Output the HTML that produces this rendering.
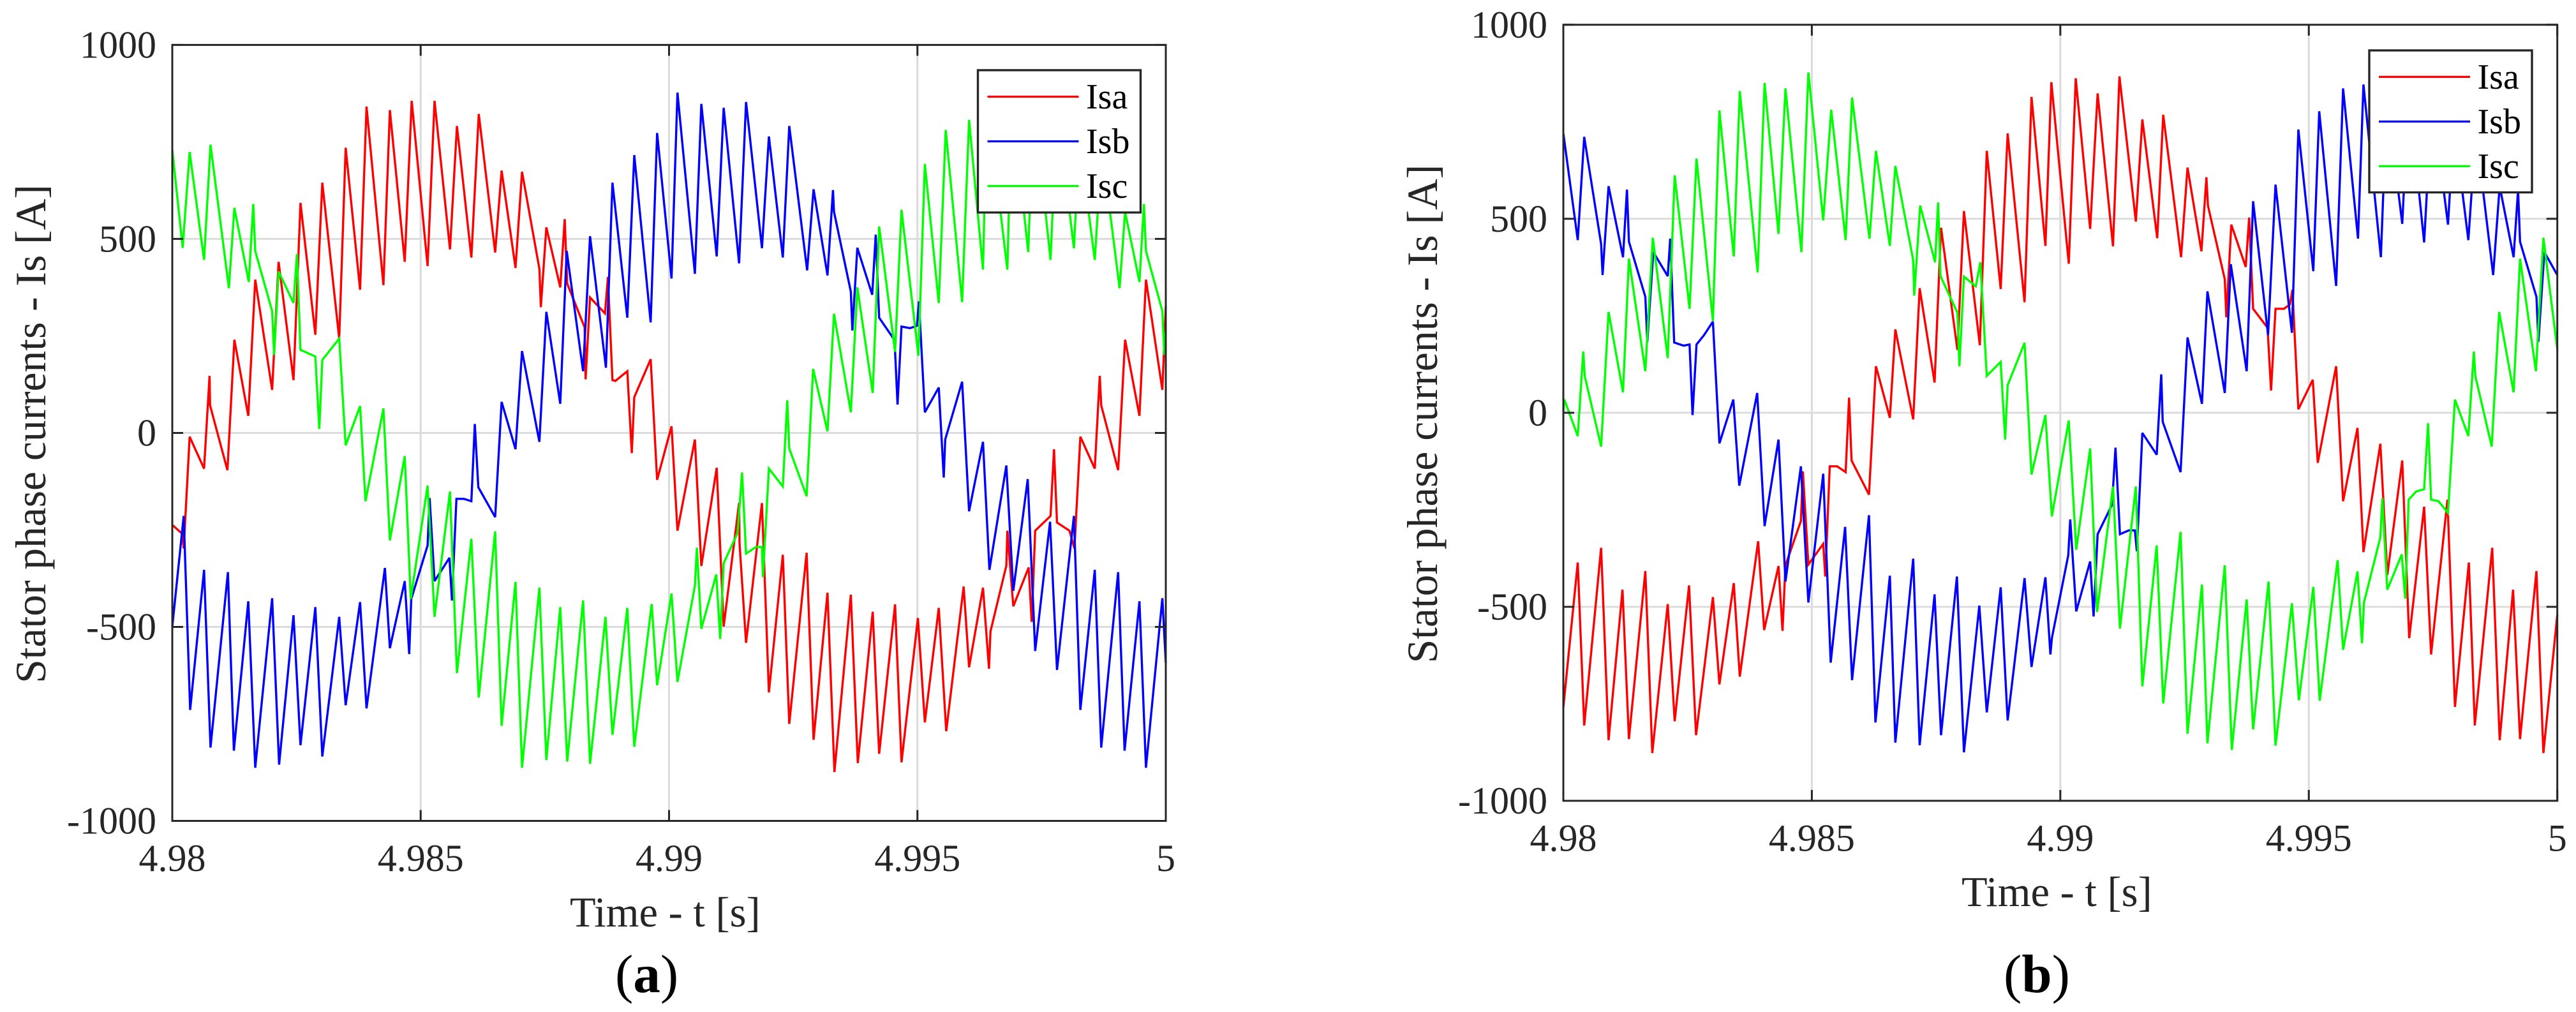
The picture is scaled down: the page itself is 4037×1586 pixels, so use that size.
<!DOCTYPE html>
<html lang="en">
<head>
<meta charset="utf-8">
<title>Stator phase currents</title>
<style>
html,body{margin:0;padding:0;background:#fff;width:4037px;height:1586px;overflow:hidden}
svg{display:block;font-family:"Liberation Serif","Times New Roman",serif}
</style>
</head>
<body>
<svg id="figure" xmlns="http://www.w3.org/2000/svg" width="4037" height="1586" viewBox="0 0 4037 1586">
  <rect width="4037" height="1586" fill="#fff"/>
  <g id="panel-a"></g>
  <g id="panel-b"></g>
  <text x="964" y="1555" font-size="85" fill="#000">(<tspan font-weight="bold">a</tspan>)</text>
  <text x="3140" y="1555" font-size="85" fill="#000">(<tspan font-weight="bold">b</tspan>)</text>
</svg>
<script>
// Tick definitions
const xTickValues = [4.98, 4.985, 4.99, 4.995, 5];
const xTickLabels = ['4.98', '4.985', '4.99', '4.995', '5'];
const yTickValues = [1000, 500, 0, -500, -1000];
const yTickLabels = ['1000', '500', '0', '-500', '-1000'];
const seriesNames = ['Isa', 'Isb', 'Isc'];
const seriesColors = ['#ff0000', '#0000ff', '#00ff00'];

// Panel (a): time in ms after 4.98 s, current in A
const aIsaTime = [0,.20,.23,.35,.64,.75,.76,1.11,1.25,1.53,1.67,2.01,2.14,2.44,2.58,2.88,3.02,3.36,3.49,3.78,3.91,4.25,4.38,4.68,4.82,5.14,5.28,5.59,5.73,6.02,6.17,6.50,6.63,6.91,7.04,7.39,7.42,7.53,7.81,7.90,7.95,8.30,8.32,8.41,8.71,8.77,8.86,8.92,9.16,9.25,9.30,9.63,9.76,10.05,10.17,10.52,10.65,10.96,11.10,11.41,11.42,11.55,11.87,12.01,12.29,12.42,12.77,12.91,13.19,13.33,13.66,13.80,14.10,14.23,14.55,14.68,15.01,15.15,15.43,15.58,15.93,16.04,16.32,16.44,16.47,16.79,16.81,16.93,17.24,17.30,17.37,17.68,17.75,17.81,18.06,18.16,18.28,18.57,18.67,18.70,19.04,19.18,19.47,19.60,19.93,20];
const aIsaCurrent = [-237,-260,-298,-10,-92,147,71,-96,240,44,395,111,441,136,593,253,645,243,735,369,841,381,832,441,856,430,856,473,791,452,822,465,676,425,673,423,324,530,375,551,385,272,138,349,308,402,136,134,159,-52,92,190,-121,17,-252,-17,-343,-90,-499,-180,-286,-541,-181,-669,-314,-750,-309,-791,-412,-874,-417,-851,-461,-827,-442,-849,-477,-746,-451,-769,-396,-604,-399,-608,-512,-342,-252,-447,-347,-487,-252,-214,-42,-231,-252,-298,-10,-92,147,71,-96,240,44,395,111,327];
const aIsbTime = [0,.23,.36,.64,.77,1.12,1.24,1.53,1.67,2.01,2.15,2.44,2.58,2.88,3.02,3.36,3.49,3.78,3.91,4.28,4.38,4.68,4.77,4.81,5.14,5.18,5.28,5.58,5.63,5.72,5.87,6.02,6.09,6.16,6.50,6.63,6.91,7.04,7.39,7.53,7.81,7.94,8.27,8.41,8.73,8.86,9.16,9.30,9.63,9.76,10.05,10.17,10.52,10.65,10.96,11.10,11.41,11.55,11.87,12.01,12.29,12.42,12.78,12.91,13.19,13.30,13.32,13.66,13.69,13.79,14.09,14.16,14.23,14.54,14.60,14.68,14.85,14.99,15.03,15.15,15.43,15.53,15.56,15.90,16.04,16.32,16.45,16.79,16.93,17.22,17.37,17.67,17.81,18.15,18.28,18.57,18.70,19.04,19.17,19.47,19.60,19.93,20];
const aIsbCurrent = [-499,-214,-714,-353,-811,-359,-819,-434,-863,-426,-855,-470,-805,-449,-834,-474,-702,-436,-710,-348,-555,-382,-570,-428,-290,-168,-382,-322,-432,-170,-170,-176,23,-140,-217,80,-42,211,-23,312,75,469,159,507,168,645,297,716,285,773,398,877,410,848,455,838,437,853,476,764,452,791,419,628,406,626,570,364,264,477,356,511,297,239,73,274,270,276,339,53,117,-115,-17,132,-202,-23,-353,-84,-407,-119,-562,-229,-611,-214,-714,-353,-811,-359,-819,-434,-863,-426,-593];
const aIscTime = [0,.21,.35,.64,.77,1.14,1.25,1.54,1.63,1.67,2.01,2.05,2.14,2.44,2.51,2.58,2.88,2.96,3.02,3.36,3.49,3.78,3.89,4.25,4.38,4.68,4.80,5.14,5.28,5.59,5.73,6.02,6.17,6.50,6.63,6.91,7.04,7.39,7.53,7.81,7.95,8.27,8.41,8.72,8.86,9.16,9.30,9.65,9.76,10.05,10.17,10.52,10.56,10.65,10.95,11.03,11.10,11.38,11.47,11.55,11.75,11.87,11.89,12.01,12.29,12.38,12.42,12.77,12.90,13.19,13.32,13.66,13.79,14.10,14.23,14.55,14.68,15.02,15.15,15.43,15.57,15.90,16.04,16.32,16.40,16.81,16.90,17.23,17.34,17.68,17.81,18.15,18.26,18.57,18.71,19.07,19.18,19.47,19.56,19.60,19.93,19.97,20];
const aIscCurrent = [729,477,724,446,743,373,580,389,590,469,314,201,416,335,461,214,197,10,188,243,-32,69,-176,63,-277,-60,-428,-136,-474,-151,-619,-273,-682,-254,-755,-384,-863,-399,-843,-449,-847,-432,-853,-474,-778,-451,-809,-441,-650,-414,-642,-394,-296,-505,-365,-531,-336,-258,-102,-311,-294,-294,-372,-92,-138,84,-40,-163,165,4,307,53,375,103,532,209,575,199,693,335,781,337,807,421,863,421,860,466,854,446,838,476,754,446,737,373,570,389,590,469,314,201,264];

// Panel (b): time in ms after 4.98 s, current in A
const bIsaTime = [0,.29,.42,.76,.91,1.19,1.32,1.65,1.79,2.10,2.24,2.53,2.67,3.01,3.14,3.43,3.55,3.92,4.04,4.33,4.41,4.47,4.78,4.82,4.93,5.23,5.27,5.36,5.51,5.68,5.75,5.80,6.15,6.29,6.57,6.68,7.04,7.17,7.47,7.60,7.93,8.06,8.38,8.52,8.80,8.94,9.28,9.42,9.70,9.82,10.17,10.31,10.60,10.75,11.06,11.19,11.52,11.65,11.95,12.07,12.43,12.56,12.84,12.94,12.97,13.31,13.34,13.44,13.73,13.80,13.88,14.17,14.24,14.33,14.50,14.62,14.67,14.79,15.08,15.18,15.55,15.69,15.98,16.10,16.44,16.58,16.88,17.02,17.32,17.46,17.79,17.94,18.22,18.34,18.69,18.84,19.11,19.25,19.58,19.72,20];
const bIsaCurrent = [-759,-386,-806,-348,-844,-456,-841,-408,-877,-493,-795,-445,-831,-475,-700,-439,-680,-331,-560,-395,-562,-393,-279,-151,-391,-338,-422,-138,-138,-153,39,-123,-211,120,-13,215,-17,321,78,477,162,520,174,675,319,720,285,814,430,852,384,862,474,823,429,867,493,756,450,768,401,632,416,607,534,344,246,485,376,503,268,219,57,268,268,279,317,9,85,-129,120,-228,-39,-359,-80,-418,-123,-581,-242,-623,-224,-758,-386,-806,-348,-844,-456,-841,-408,-877,-521];
const bIsbTime = [0,.29,.42,.76,.79,.91,1.20,1.28,1.32,1.65,1.69,1.81,2.10,2.15,2.23,2.42,2.54,2.60,2.68,2.83,3.01,3.14,3.42,3.54,3.90,4.05,4.33,4.47,4.78,4.93,5.23,5.38,5.67,5.81,6.15,6.28,6.57,6.68,7.04,7.17,7.47,7.60,7.92,8.06,8.37,8.52,8.80,8.94,9.28,9.42,9.70,9.80,9.83,10.16,10.20,10.32,10.60,10.67,10.75,11.04,11.11,11.20,11.38,11.50,11.54,11.65,11.94,12.03,12.06,12.42,12.56,12.85,12.96,13.31,13.43,13.75,13.88,14.18,14.33,14.66,14.79,15.09,15.21,15.55,15.69,15.99,16.10,16.45,16.57,16.88,17.01,17.32,17.48,17.80,17.92,18.21,18.36,18.71,18.84,19.12,19.21,19.25,19.58,19.62,19.74,20];
const bIsbCurrent = [720,445,711,435,355,584,401,575,441,299,183,414,352,449,181,173,176,-6,176,200,235,-79,34,-188,51,-292,-69,-435,-138,-489,-157,-644,-294,-689,-264,-798,-420,-850,-376,-857,-468,-831,-422,-875,-497,-772,-450,-793,-426,-655,-424,-623,-581,-367,-275,-512,-383,-525,-313,-237,-90,-313,-303,-303,-357,-52,-108,99,-23,-153,194,23,313,51,383,107,545,200,588,206,730,365,777,327,836,449,846,401,812,487,829,439,812,485,745,445,728,355,584,401,575,441,299,183,414,355];
const bIscTime = [0,.02,.29,.40,.43,.76,.91,1.20,1.32,1.65,1.80,2.10,2.24,2.54,2.68,3.01,3.14,3.43,3.55,3.91,4.05,4.33,4.47,4.79,4.93,5.23,5.39,5.68,5.81,6.16,6.29,6.57,6.68,7.04,7.06,7.18,7.48,7.54,7.59,7.93,7.97,8.06,8.30,8.39,8.52,8.80,8.89,8.94,9.28,9.42,9.70,9.83,10.17,10.32,10.60,10.74,11.06,11.20,11.52,11.65,11.94,12.07,12.42,12.56,12.85,12.96,13.31,13.45,13.75,13.88,14.19,14.33,14.66,14.80,15.09,15.22,15.58,15.69,15.98,16.07,16.11,16.44,16.48,16.58,16.87,16.94,17.01,17.16,17.32,17.40,17.46,17.61,17.80,17.94,18.21,18.32,18.35,18.68,18.83,19.12,19.25,19.57,19.72,20];
const bIscCurrent = [3,34,-60,158,95,-87,260,53,397,107,451,141,612,268,655,237,779,403,829,362,850,461,836,414,877,496,781,445,812,449,675,430,636,393,302,534,388,542,352,258,120,351,326,388,95,131,-69,71,180,-159,-6,-267,-20,-353,-92,-513,-190,-556,-190,-705,-342,-749,-307,-827,-443,-852,-393,-869,-481,-816,-435,-858,-491,-741,-449,-742,-380,-611,-409,-594,-489,-321,-220,-456,-365,-479,-224,-203,-197,-27,-224,-228,-258,34,-60,158,95,-87,260,53,397,107,451,164];

const SVG_NS = 'http://www.w3.org/2000/svg';
const INK = '#262626';
const GRID = '#dcdcdc';

function make(parent, tag, attrs, text) {
  const el = document.createElementNS(SVG_NS, tag);
  for (const k in attrs) el.setAttribute(k, attrs[k]);
  if (text !== undefined) el.textContent = text;
  parent.appendChild(el);
  return el;
}

function drawPanel(root, prefix, box, legend, series) {
  const xScale = t => box.left + (t - 4.98) / 0.02 * (box.right - box.left);
  const yScale = v => box.top + (1000 - v) / 2000 * (box.bottom - box.top);

  xTickValues.forEach((v, i) => {
    const x = xScale(v);
    if (i > 0 && i < xTickValues.length - 1) {
      const grid = make(root, 'line', {x1: x, x2: x, y1: box.top, y2: box.bottom, stroke: GRID, 'stroke-width': 3.2});
      
      
    }
  });
  yTickValues.forEach((v, i) => {
    const y = yScale(v);
    if (i > 0 && i < yTickValues.length - 1) {
      const grid = make(root, 'line', {x1: box.left, x2: box.right, y1: y, y2: y, stroke: GRID, 'stroke-width': 3});
      
      
    }
  });

  series.forEach((s, i) => {
    const pts = s.time.map((ms, j) => xScale(4.98 + ms / 1000).toFixed(1) + ',' + yScale(s.current[j]).toFixed(1)).join(' ');
    const line = make(root, 'polyline', {points: pts, fill: 'none', stroke: seriesColors[i], 'stroke-width': 3.4, 'stroke-linejoin': 'miter', 'stroke-miterlimit': 3});
    
    
  });

  xTickValues.forEach((v, i) => {
    const x = xScale(v);
    const tickBottom = make(root, 'line', {x1: x, x2: x, y1: box.bottom, y2: box.bottom - 17, stroke: INK, 'stroke-width': 3});
    
    
    const tickTop = make(root, 'line', {x1: x, x2: x, y1: box.top, y2: box.top + 17, stroke: INK, 'stroke-width': 3});
    
    
    const label = make(root, 'text', {x: x, y: box.xLabelY, 'font-size': 60, fill: INK, 'text-anchor': 'middle'}, xTickLabels[i]);
    
    
  });
  yTickValues.forEach((v, i) => {
    const y = yScale(v);
    const tickLeft = make(root, 'line', {x1: box.left, x2: box.left + 17, y1: y, y2: y, stroke: INK, 'stroke-width': 3});
    
    
    const tickRight = make(root, 'line', {x1: box.right, x2: box.right - 17, y1: y, y2: y, stroke: INK, 'stroke-width': 3});
    
    
    const label = make(root, 'text', {x: box.left - 25, y: y + 20, 'font-size': 60, fill: INK, 'text-anchor': 'end'}, yTickLabels[i]);
    
    
  });

  const frame = make(root, 'rect', {x: box.left, y: box.top, width: box.right - box.left, height: box.bottom - box.top, fill: 'none', stroke: INK, 'stroke-width': 3});
  
  

  const xTitle = make(root, 'text', {x: box.xTitleX, y: box.xTitleY, 'font-size': 66.5, fill: INK}, 'Time - t [s]');
  
  
  const yTitle = make(root, 'text', {transform: 'translate(' + box.yTitleX + ',' + box.yTitleY + ') rotate(-90)', 'font-size': 67.5, fill: INK, 'text-anchor': 'middle'}, 'Stator phase currents - Is [A]');
  
  

  const lg = make(root, 'g', {});
  
  
  const lgBox = make(lg, 'rect', {x: legend.left, y: legend.top, width: legend.width, height: legend.height, fill: '#fff', stroke: INK, 'stroke-width': 3.4});
  
  
  seriesNames.forEach((name, i) => {
    const rowY = legend.top + 41.5 + i * 70;
    const sw = make(lg, 'line', {x1: legend.left + 15, x2: legend.left + 158, y1: rowY, y2: rowY, stroke: seriesColors[i], 'stroke-width': 3.2});
    
    
    const txt = make(lg, 'text', {x: legend.left + 169.5, y: rowY + 18.5, 'font-size': 56, fill: '#000'}, name);
    
    
  });
}

drawPanel(document.getElementById('panel-a'), 'a',
  {left: 270, right: 1827, top: 70.4, bottom: 1286.5, xLabelY: 1365, xTitleX: 893, xTitleY: 1452, yTitleX: 71, yTitleY: 680},
  {left: 1532.5, top: 110, width: 255, height: 223},
  [{time: aIsaTime, current: aIsaCurrent}, {time: aIsbTime, current: aIsbCurrent}, {time: aIscTime, current: aIscCurrent}]);

drawPanel(document.getElementById('panel-b'), 'b',
  {left: 2450, right: 4007.7, top: 38.8, bottom: 1255, xLabelY: 1333.5, xTitleX: 3074, xTitleY: 1420, yTitleX: 2252, yTitleY: 648.6},
  {left: 3713, top: 79, width: 255, height: 222.5},
  [{time: bIsaTime, current: bIsaCurrent}, {time: bIsbTime, current: bIsbCurrent}, {time: bIscTime, current: bIscCurrent}]);
</script>
</body>
</html>
